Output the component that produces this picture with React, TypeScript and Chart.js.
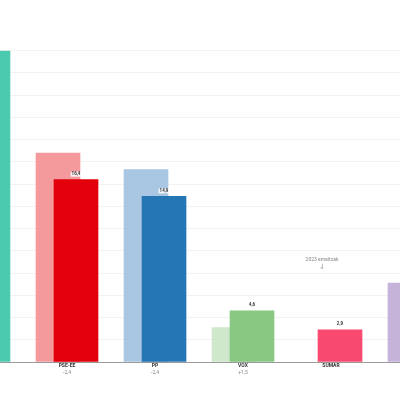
import { useEffect, useRef } from "react";
import { Chart, registerables } from "chart.js";

Chart.register(...registerables);

const categories = ["EH BILDU", "PSE-EE", "PP", "VOX", "SUMAR", "PODEMOS"];
const previous2023: (number | null)[] = [null, 18.8, 17.3, 3.1, null, 7.1];
const current: (number | null)[] = [28.0, 16.4, 14.9, 4.6, 2.9, null];
const changes = ["", "-2,4", "-2,4", "+1,5", "", ""];
const currentColors = ["#4ccab0", "#e2000b", "#2576b4", "#88c882", "#f84a70", "#9a7cc0"];
const previousColors = ["#a6e4d7", "#f4999c", "#a9c7e2", "#cfe7ca", "#fbb0c0", "#c6b3da"];
const annotationText = "2023 emaitzak";
const annotationCategory = 4;
const annotationValue = 9.2;

const X_MIN = 0.2386;
const X_MAX = 4.784;
const OFFSET = 0.1023;
const FONT = "Roboto, 'Liberation Sans', sans-serif";

const fmt = (v: number) => v.toFixed(1).replace(".", ",");

const labelsPlugin = {
  id: "valueLabels",
  afterDatasetsDraw(chart: any) {
    const ctx = chart.ctx as CanvasRenderingContext2D;
    const area = chart.chartArea;
    ctx.save();
    ctx.beginPath();
    ctx.rect(area.left, 0, area.right - area.left, chart.height);
    ctx.clip();
    const meta = chart.getDatasetMeta(1);
    ctx.font = `bold 4.5px ${FONT}`;
    ctx.textAlign = "center";
    ctx.textBaseline = "middle";
    meta.data.forEach((el: any, i: number) => {
      const v = current[i];
      if (v == null) return;
      const t = fmt(v);
      const w = ctx.measureText(t).width + 2;
      const x = el.x;
      const y = el.y - 5.5;
      ctx.fillStyle = "rgba(255,255,255,0.85)";
      ctx.fillRect(x - w / 2, y - 2.5, w, 5);
      ctx.fillStyle = "#333";
      ctx.fillText(t, x, y);
    });
    const xs = chart.scales.x;
    const ys = chart.scales.y;
    const ax = xs.getPixelForValue(annotationCategory - OFFSET);
    const ay = ys.getPixelForValue(annotationValue);
    ctx.font = `5px ${FONT}`;
    ctx.fillStyle = "#888";
    ctx.fillText(annotationText, ax, ay);
    ctx.strokeStyle = "#888";
    ctx.lineWidth = 0.6;
    ctx.beginPath();
    ctx.moveTo(ax + 0.5, ay + 4);
    ctx.lineTo(ax, ay + 9);
    ctx.moveTo(ax - 1.3, ay + 7.6);
    ctx.lineTo(ax, ay + 9);
    ctx.lineTo(ax + 1.1, ay + 7.5);
    ctx.stroke();
    ctx.restore();
  },
};

export default function App() {
  const ref = useRef<HTMLCanvasElement | null>(null);
  useEffect(() => {
    if (!ref.current) return;
    const visible = categories.map((_, i) => i).filter((i) => i >= X_MIN && i <= X_MAX);
    const xCommon = {
      type: "linear",
      position: "bottom",
      min: X_MIN,
      max: X_MAX,
      offset: false,
      bounds: "data",
      afterBuildTicks: (s: any) => {
        s.ticks = visible.map((v) => ({ value: v }));
      },
    };
    const chart = new Chart(ref.current, {
      type: "bar",
      data: {
        datasets: [
          {
            label: "2023",
            data: previous2023.map((y, i) => ({ x: i - OFFSET, y })) as any,
            backgroundColor: previousColors,
            borderWidth: 0,
            barThickness: 44,
            grouped: false,
            order: 2,
            xAxisID: "x",
          },
          {
            label: "Orain",
            data: current.map((y, i) => ({ x: i + OFFSET, y })) as any,
            backgroundColor: currentColors,
            borderWidth: 0,
            barThickness: 44,
            grouped: false,
            order: 1,
            xAxisID: "x",
          },
        ],
      },
      options: {
        animation: false,
        responsive: true,
        maintainAspectRatio: false,
        layout: { padding: { top: 50.7, bottom: 23, left: 0, right: 0 } },
        plugins: { legend: { display: false }, tooltip: { enabled: false } },
        scales: {
          x: {
            ...xCommon,
            afterFit: (s: any) => {
              s.height = 7;
            },
            grid: { display: false, drawTicks: false, offset: false },
            border: { display: true, color: "#9a9a9a", width: 1 },
            ticks: {
              autoSkip: false,
              maxRotation: 0,
              padding: 1,
              color: "#333",
              font: { size: 5, weight: "bold", family: FONT },
              callback: (v: any) => categories[v] ?? "",
            },
          },
          x2: {
            ...xCommon,
            afterFit: (s: any) => {
              s.height = 8;
            },
            grid: { display: false, drawTicks: false, offset: false },
            border: { display: false },
            ticks: {
              autoSkip: false,
              maxRotation: 0,
              padding: 0.5,
              color: "#8a8a8a",
              font: { size: 5, family: FONT },
              callback: (v: any) => changes[v] ?? "",
            },
          },
          y: {
            type: "linear",
            min: 0,
            max: 28,
            display: true,
            afterFit: (s: any) => {
              s.width = 0;
            },
            ticks: { display: false, stepSize: 2 },
            grid: { color: "#f2f2f2", lineWidth: 1, drawTicks: false },
            border: { display: false },
          },
        },
      } as any,
      plugins: [labelsPlugin],
    });
    return () => chart.destroy();
  }, []);
  return (
    <div style={{ position: "fixed", left: 0, top: 0, width: 400, height: 400, background: "#fff" }}>
      <canvas ref={ref} />
    </div>
  );
}
